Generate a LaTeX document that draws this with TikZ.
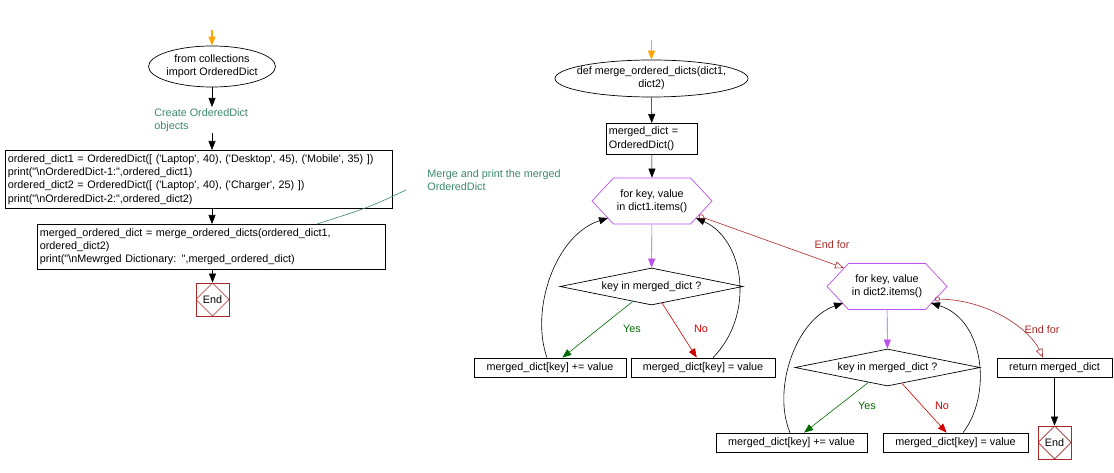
\documentclass[tikz,border=0pt]{standalone}
\usepackage{fontspec}
\setmainfont{Liberation Sans}[Ligatures=TeXOff]
\usetikzlibrary{shapes.geometric,shapes.symbols,arrows.meta}
\definecolor{notec}{RGB}{60,135,110}
\definecolor{loopc}{RGB}{190,80,240}
\definecolor{endc}{RGB}{170,40,40}
\definecolor{yesc}{RGB}{0,105,0}
\definecolor{noc}{RGB}{210,0,0}
\definecolor{startc}{RGB}{255,165,0}

\begin{document}
\begin{tikzpicture}[x=1pt,y=-1pt,font=\fontsize{10.8}{13.3}\selectfont,line width=0.7pt,
    >={Triangle[length=9pt,width=7pt]},
    stepbox/.style={draw,inner sep=2.5pt,minimum height=19pt},
    codebox/.style={draw,anchor=north west,inner xsep=2.5pt,inner ysep=2pt,align=left},
    startnode/.style={draw,ellipse,inner sep=0pt},
    loopnode/.style={draw=loopc,shape=signal,signal to=west and east,signal pointer angle=94,
      inner sep=0pt,minimum width=120pt,minimum height=46pt},
    testnode/.style={draw,diamond,inner sep=0pt,minimum height=37pt},
    endnode/.style={draw=endc,minimum size=33pt,inner sep=0pt,
      path picture={\draw[endc] (path picture bounding box.north) -- (path picture bounding box.east)
        -- (path picture bounding box.south) -- (path picture bounding box.west) -- cycle;}},
    notenode/.style={text=notec,align=left,inner sep=1pt,anchor=west},
    flow/.style={->,line width=0.6pt},
    endfor/.style={endc,line width=0.6pt,{Circle[open,length=5pt]}-{Triangle[open,length=9pt,width=7pt]}}]
  \useasboundingbox (0,0) rectangle (1114,473);

  \coordinate (in1) at (212,30);
  \node[startnode,minimum width=127pt,minimum height=41pt,
    label={[align=center]center:from collections\\import OrderedDict}] (imp) at (212,66.5) {};
  \node[notenode] (note1) at (153,120) {Create OrderedDict\\objects};
  \node[codebox,text width=382pt,minimum height=58pt] (dicts) at (5,150)
    {ordered\_dict1 = OrderedDict([ ('Laptop', 40), ('Desktop', 45), ('Mobile', 35) ])\\
     print("\textbackslash nOrderedDict-1:",ordered\_dict1)\\
     ordered\_dict2 = OrderedDict([ ('Laptop', 40), ('Charger', 25) ])\\
     print("\textbackslash nOrderedDict-2:",ordered\_dict2)};
  \node[notenode] (note2) at (426,180) {Merge and print the merged\\OrderedDict};
  \node[codebox,text width=343pt,minimum height=45pt] (merge) at (37,224)
    {merged\_ordered\_dict = merge\_ordered\_dicts(ordered\_dict1,\\
     ordered\_dict2)\\
     print("\textbackslash nMewrged Dictionary: ",merged\_ordered\_dict)};
  \node[endnode] (end1) at (212.5,299.5) {End};

  \draw[->,startc,line width=1.4pt] (in1) -- (imp.north);
  \draw[flow] (imp) -- (imp |- note1.north);
  \draw[flow] (note1.south -| imp) -- (dicts.north -| imp);
  \draw[flow] (dicts.south -| imp) -- (merge.north -| imp);
  \draw[flow] (merge.south -| end1) -- (end1);
  \draw[notec,line width=0.6pt] ([xshift=-20pt,yshift=2pt]note2.south west) .. controls (370,207) .. ([xshift=280pt]merge.north west);

  \coordinate (in2) at (651.5,40);
  \node[startnode,minimum width=193pt,minimum height=37pt,
    label={[align=center]center:def merge\_ordered\_dicts(dict1,\\dict2)}] (def) at (651.5,78.5) {};
  \node[codebox,text width=86pt,minimum height=31pt] (init) at (606,123) {merged\_dict =\\OrderedDict()};
  \node[loopnode,label={[align=center]center:for key, value\\in dict1.items()}] (for1) at (652,201) {};
  \node[testnode,minimum width=183pt,label=center:key in merged\_dict ?] (test1) at (651.5,286.5) {};
  \node[stepbox,minimum width=152pt] (add1) at (550,367.5) {merged\_dict[key] += value};
  \node[stepbox,minimum width=144pt] (set1) at (703,367.5) {merged\_dict[key] = value};
  \node[text=yesc] (yes1) at (632,329) {Yes};
  \node[text=noc] (no1) at (701,329) {No};

  \node[loopnode,label={[align=center]center:for key, value\\in dict2.items()}] (for2) at (887,286.5) {};
  \node[testnode,minimum width=185pt,label=center:key in merged\_dict ?] (test2) at (887.5,367.5) {};
  \node[stepbox,minimum width=151pt] (add2) at (791.5,442.5) {merged\_dict[key] += value};
  \node[stepbox,minimum width=145pt] (set2) at (955.5,442.5) {merged\_dict[key] = value};
  \node[text=yesc] (yes2) at (867,406) {Yes};
  \node[text=noc] (no2) at (942,406) {No};
  \node[stepbox,minimum width=115pt] (ret) at (1054.5,367.5) {return merged\_dict};
  \node[endnode] (end2) at (1054.5,442.5) {End};
  \node[text=endc] (done1) at (832,245) {End for};
  \node[text=endc] (done2) at (1042,330) {End for};

  \draw[->,startc,line width=1.4pt] (in2) -- (def.north);
  \draw[flow] (def) -- (init);
  \draw[flow] (init) -- (for1);
  \draw[flow,loopc] (for1) -- (test1);
  \draw[flow,yesc] (test1) -- (add1);
  \draw[flow,noc] (test1) -- (set1);
  \draw[flow] ([xshift=-3pt]add1.north) .. controls (530,310) and (555,235) .. ([shift={(-44,17)}]for1.center);
  \draw[flow] ([xshift=10pt]set1.north) .. controls (755,315) and (745,240) .. ([shift={(44,17)}]for1.center);
  \draw[endfor] ([shift={(47,15)}]for1.center) -- ([shift={(-43,-18.5)}]for2.center);

  \draw[flow,loopc] (for2) -- (test2);
  \draw[flow,yesc] (test2) -- (add2);
  \draw[flow,noc] (test2) -- (set2);
  \draw[flow] ([xshift=-1.5pt]add2.north) .. controls (772,390) and (795,320) .. ([shift={(-44,16.5)}]for2.center);
  \draw[flow] ([xshift=7.5pt]set2.north) .. controls (992,395) and (985,320) .. ([shift={(44,16.5)}]for2.center);
  \draw[endfor] ([shift={(48,12.5)}]for2.center) .. controls (990,300) and (1030,330) .. ([xshift=-11.5pt]ret.north);
  \draw[flow] (ret) -- (end2);
\end{tikzpicture}
\end{document}
